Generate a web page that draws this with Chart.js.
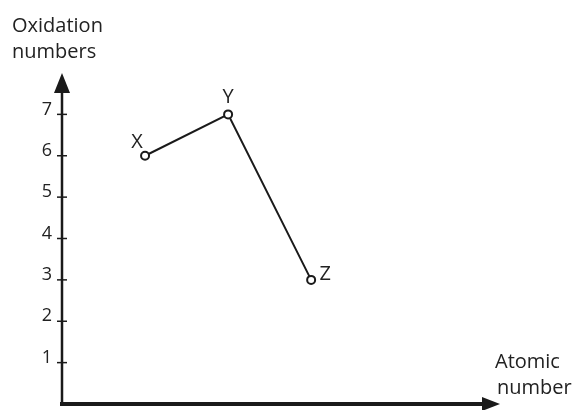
<!DOCTYPE html>
<html>
<head>
<meta charset="utf-8">
<script src="https://cdn.jsdelivr.net/npm/chart.js@4"></script>
<style>
  html, body { margin: 0; padding: 0; background: #fff; }
  #wrap { width: 576px; height: 410px; position: relative; }
</style>
</head>
<body>
<div id="wrap"><canvas id="chart"></canvas></div>
<script>
// ===== データ =====
const ELEMENTS = ['X', 'Y', 'Z'];
const ATOMIC_POS = [1, 2, 3];
const OXIDATION = [6, 7, 3];
const Y_TICKS = [1, 2, 3, 4, 5, 6, 7];
const Y_TITLE = ['Oxidation', 'numbers'];
const X_TITLE = ['Atomic', 'number'];

const FONT = '"Open Sans", "Noto Sans", sans-serif';
const INK = '#1a1a1a';
const TEXT = '#222';

// 点ラベルの位置ずれ
const LABEL_OFFSETS = { X: [-8, -13], Y: [0, -17], Z: [14, -6] };

// ===== 軸・矢印・ラベル描画 =====
const axesPlugin = {
  id: 'arrowAxes',
  beforeDatasetsDraw(chart) {
    const { ctx, chartArea, scales } = chart;
    const x0 = scales.x.getPixelForValue(0);
    const y0 = scales.y.getPixelForValue(0);
    ctx.save();
    ctx.strokeStyle = INK;
    ctx.fillStyle = INK;

    // y軸
    ctx.lineWidth = 2.5;
    ctx.beginPath();
    ctx.moveTo(x0, y0);
    ctx.lineTo(x0, chartArea.top + 12);
    ctx.stroke();
    ctx.beginPath();
    ctx.moveTo(x0, chartArea.top);
    ctx.lineTo(x0 - 8, chartArea.top + 20);
    ctx.lineTo(x0 + 8, chartArea.top + 20);
    ctx.closePath();
    ctx.fill();

    // 目盛り
    ctx.lineWidth = 1.5;
    Y_TICKS.forEach(v => {
      const py = scales.y.getPixelForValue(v);
      ctx.beginPath();
      ctx.moveTo(x0 - 5, py);
      ctx.lineTo(x0 + 5, py);
      ctx.stroke();
    });

    // x軸
    ctx.lineWidth = 4;
    ctx.beginPath();
    ctx.moveTo(x0 - 2, y0);
    ctx.lineTo(chartArea.right - 10, y0);
    ctx.stroke();
    ctx.beginPath();
    ctx.moveTo(chartArea.right + 2, y0);
    ctx.lineTo(chartArea.right - 16, y0 - 7);
    ctx.lineTo(chartArea.right - 16, y0 + 7);
    ctx.closePath();
    ctx.fill();

    // 軸タイトル
    ctx.fillStyle = TEXT;
    ctx.font = '20px ' + FONT;
    ctx.textAlign = 'left';
    ctx.textBaseline = 'alphabetic';
    ctx.fillText(Y_TITLE[0], 12, 32);
    ctx.fillText(Y_TITLE[1], 12, 58);
    ctx.fillText(X_TITLE[0], 495, 368);
    ctx.fillText(X_TITLE[1], 497, 394);
    ctx.restore();
  },
  afterDatasetsDraw(chart) {
    const { ctx } = chart;
    const meta = chart.getDatasetMeta(0);
    ctx.save();
    ctx.fillStyle = TEXT;
    ctx.font = '20px ' + FONT;
    ctx.textAlign = 'center';
    ctx.textBaseline = 'middle';
    meta.data.forEach((pt, i) => {
      const name = ELEMENTS[i];
      const off = LABEL_OFFSETS[name];
      ctx.fillText(name, pt.x + off[0], pt.y + off[1]);
    });
    ctx.restore();
  }
};

// ===== グラフ =====
function initChart() {
  const ctx = document.getElementById('chart');
  new Chart(ctx, {
    type: 'line',
    data: {
      datasets: [{
        data: ATOMIC_POS.map((x, i) => ({ x, y: OXIDATION[i] })),
        borderColor: INK,
        borderWidth: 2,
        pointRadius: 4,
        pointBorderWidth: 2,
        pointBackgroundColor: '#fff',
        pointBorderColor: INK,
        tension: 0
      }]
    },
    options: {
      responsive: true,
      maintainAspectRatio: false,
      animation: false,
      layout: { padding: { left: 0, top: 73, right: 78, bottom: 1.5 } },
      plugins: { legend: { display: false }, tooltip: { enabled: false } },
      scales: {
        x: { type: 'linear', min: 0, max: 5.25, display: false },
        y: {
          min: 0, max: 8,
          grid: { display: false },
          border: { display: false },
          afterFit: s => {
            s.width = 62;
            s.paddingTop = 0;
            s.paddingBottom = 0;
          },
          ticks: {
            stepSize: 1,
            padding: 2,
            labelOffset: -5,
            color: TEXT,
            font: { family: FONT, size: 18 },
            callback: v => (Y_TICKS.includes(v) ? String(v) : null)
          }
        }
      }
    },
    plugins: [axesPlugin]
  });
}

document.addEventListener('DOMContentLoaded', initChart);
</script>
</body>
</html>
